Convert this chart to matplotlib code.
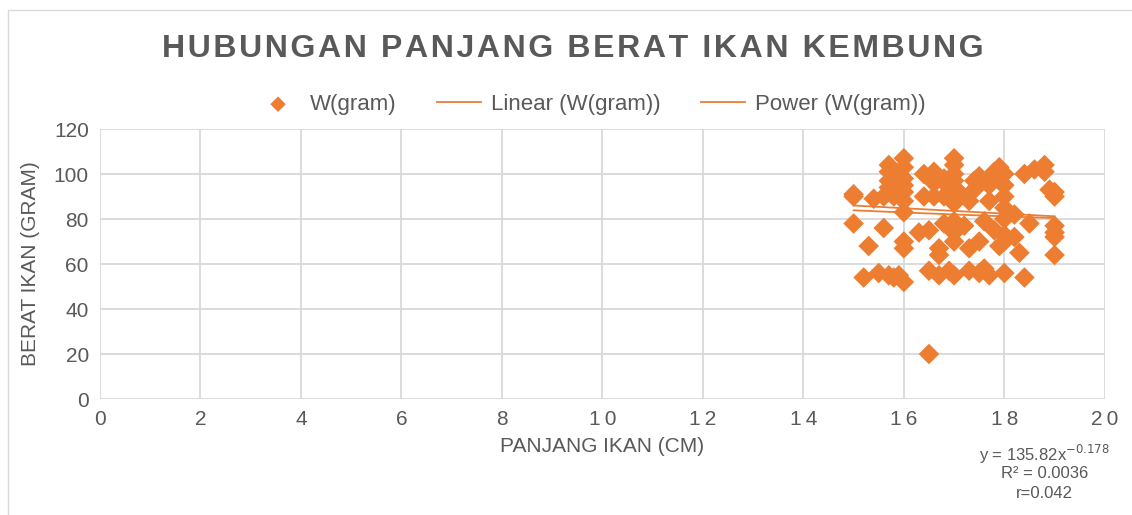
import matplotlib.pyplot as plt
import numpy as np
from matplotlib.patches import Rectangle

# data
panjang = [15.0, 15.0, 15.0, 15.2, 15.3, 15.4, 15.5, 15.6, 15.6, 15.7, 15.7, 15.7, 15.7, 15.7,
	15.8, 15.8, 15.9, 15.9, 16.0, 16.0, 16.0, 16.0, 16.0, 16.0, 16.0, 16.0, 16.0, 16.0,
	16.3, 16.4, 16.4, 16.5, 16.5, 16.5, 16.6, 16.6, 16.6, 16.7, 16.7, 16.7, 16.8, 16.8, 16.8,
	16.9, 16.9, 17.0, 17.0, 17.0, 17.0, 17.0, 17.0, 17.0, 17.0, 17.0, 17.0, 17.0, 17.1, 17.2,
	17.3, 17.3, 17.3, 17.4, 17.4, 17.5, 17.5, 17.5, 17.6, 17.6, 17.7, 17.7, 17.7, 17.8, 17.8,
	17.9, 17.9, 17.9, 18.0, 18.0, 18.0, 18.0, 18.0, 18.0, 18.0, 18.0, 18.2, 18.2, 18.3, 18.4,
	18.4, 18.5, 18.6, 18.8, 18.8, 18.9, 19.0, 19.0, 19.0, 19.0, 19.0, 19.0]
berat = [91, 90, 78, 54, 68, 89, 56, 90, 76, 104, 101, 97, 94, 55,
	54, 90, 100, 55, 107, 103, 98, 95, 92, 88, 83, 70, 67, 52,
	74, 90, 100, 20, 57, 75, 101, 96, 90, 55, 67, 64, 78, 90, 98,
	94, 57, 107, 104, 100, 97, 93, 90, 87, 79, 74, 70, 55, 92, 77,
	57, 67, 88, 93, 97, 99, 70, 56, 79, 58, 55, 95, 88, 75, 101,
	103, 97, 68, 100, 95, 90, 85, 80, 73, 70, 56, 82, 72, 65, 54,
	100, 78, 102, 104, 101, 93, 92, 90, 77, 74, 72, 64]

# trendlines as shown in the chart
linSlope, linIntercept = -1.2, 104.0
powA, powB = 135.82, -0.178
trendRange = [15.0, 19.0]

xTicks = list(range(0, 21, 2))
yTicks = list(range(0, 121, 20))

orange = '#ED7D31'
grey = '#595959'
gridGrey = '#D9D9D9'

plt.rcParams['font.family'] = ['Liberation Sans', 'DejaVu Sans']

fig = plt.figure(figsize=(11.32, 5.15), dpi=100)
fig.patches.append(Rectangle((0.007, -0.01), 1.5, 0.99, transform=fig.transFigure,
	fill=False, edgecolor=gridGrey, linewidth=1))

ax = fig.add_axes([0.0883, 0.2252, 0.8877, 0.5243])

ax.scatter(panjang, berat, marker='D', s=110, color=orange, edgecolors='none',
	label='W(gram)', zorder=3)

tx = np.linspace(trendRange[0], trendRange[1], 50)
ax.plot(tx, linSlope * tx + linIntercept, color=orange, linewidth=1.3,
	label='Linear (W(gram))', zorder=4)
ax.plot(tx, powA * tx ** powB, color=orange, linewidth=1.3,
	label='Power (W(gram))', zorder=4)

ax.set_xlim(0, 20)
ax.set_ylim(0, 120)
ax.set_xticks(xTicks)
ax.set_yticks(yTicks)
ax.set_xticklabels(['\u2009'.join(str(t)) for t in xTicks])
ax.tick_params(length=0, labelsize=15, labelcolor=grey, pad=8)
ax.grid(True, color=gridGrey, linewidth=1.3)
ax.set_axisbelow(True)
for s in ax.spines.values():
	s.set_visible(False)

ax.set_xlabel('PANJANG IKAN (CM)', fontsize=15, color=grey, labelpad=6)
ax.set_ylabel('BERAT IKAN (GRAM)', fontsize=15, color=grey, labelpad=10)

title = '\u200a'.join('HUBUNGAN PANJANG BERAT IKAN KEMBUNG')
fig.text(0.506, 0.905, title, ha='center', va='center', fontsize=23,
	fontweight='bold', color=grey, family=['Liberation Sans', 'DejaVu Sans'])

leg = fig.legend(loc='center', bbox_to_anchor=(0.522, 0.797), ncol=3, frameon=False,
	fontsize=16, handlelength=2.0, columnspacing=1.8, handletextpad=0.45, markerscale=0.75)
for t in leg.get_texts():
	t.set_color(grey)

fig.text(0.923, 0.118, 'y = 135.82x$^{-0.178}$', ha='center', va='center', fontsize=12, color=grey)
fig.text(0.923, 0.080, 'R² = 0.0036', ha='center', va='center', fontsize=12, color=grey)
fig.text(0.923, 0.041, 'r=0.042', ha='center', va='center', fontsize=12, color=grey)

fig.savefig('out.png', dpi=100)
